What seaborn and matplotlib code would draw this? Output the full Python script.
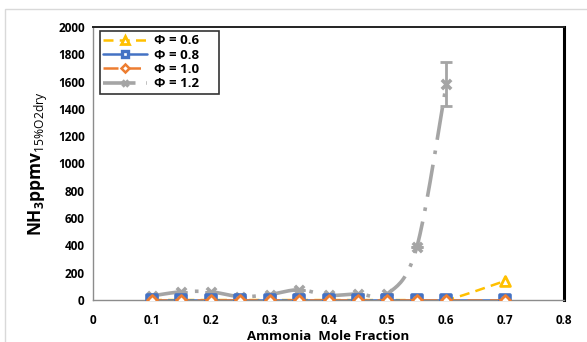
import numpy as np
import pandas as pd
import matplotlib
matplotlib.use("Agg")
import matplotlib.pyplot as plt
import seaborn as sns
from matplotlib.lines import Line2D
from matplotlib.patches import Rectangle

# ---- data ----
x_main = [0.1, 0.15, 0.2, 0.25, 0.3, 0.35, 0.4, 0.45, 0.5, 0.55, 0.6, 0.7]
phi06 = [0, 0, 0, 0, 0, 0, 0, 0, 0, 0, 0, 140]
phi08 = [0, 0, 0, 0, 0, 0, 0, 0, 0, 0, 0, 0]
phi10 = [0, 0, 0, 0, 0, 0, 0, 0, 0, 0, 0, 0]
x_12 = [0.1, 0.15, 0.2, 0.25, 0.3, 0.35, 0.4, 0.45, 0.5, 0.55, 0.6]
phi12 = [30, 60, 60, 25, 40, 75, 35, 45, 45, 388, 1580]
phi12_err = [0, 0, 0, 0, 0, 0, 0, 0, 0, 0, 160]
x_ticks = [0, 0.1, 0.2, 0.3, 0.4, 0.5, 0.6, 0.7, 0.8]
x_ticklabels = ["0", "0.1", "0.2", "0.3", "0.4", "0.5", "0.6", "0.7", "0.8"]
y_ticks = [0, 200, 400, 600, 800, 1000, 1200, 1400, 1600, 1800, 2000]
labels = ["Φ = 0.6", "Φ = 0.8", "Φ = 1.0", "Φ = 1.2"]

C_Y, C_B, C_O, C_G = "#FFC000", "#4472C4", "#ED7D31", "#A5A5A5"

sns.set_theme(style="white")
plt.rcParams["font.family"] = ["Open Sans", "DejaVu Sans"]
plt.rcParams["mathtext.fontset"] = "custom"
plt.rcParams["mathtext.rm"] = "Open Sans"
plt.rcParams["mathtext.bf"] = "Open Sans:bold"
plt.rcParams["text.color"] = "black"
plt.rcParams["xtick.color"] = "black"
plt.rcParams["ytick.color"] = "black"
plt.rcParams["axes.labelcolor"] = "black"


def smooth(xs, ys, n=20):
    """Catmull-Rom rendering of a smoothed line through the data points."""
    xs = np.asarray(xs, float); ys = np.asarray(ys, float)
    P = np.column_stack([xs, ys])
    P = np.vstack([P[0], P, P[-1]])
    out = []
    t = np.linspace(0, 1, n, endpoint=False)[:, None]
    for i in range(1, len(P) - 2):
        p0, p1, p2, p3 = P[i - 1], P[i], P[i + 1], P[i + 2]
        seg = 0.5 * ((2 * p1) + (-p0 + p2) * t + (2 * p0 - 5 * p1 + 4 * p2 - p3) * t ** 2
                     + (-p0 + 3 * p1 - 3 * p2 + p3) * t ** 3)
        out.append(seg)
    out.append(P[-2][None, :])
    out = np.vstack(out)
    return out[:, 0], out[:, 1]


fig = plt.figure(figsize=(5.87, 3.42), dpi=100)
ax = fig.add_axes([93 / 587, 1 - 300 / 342, (564 - 93) / 587, (300 - 27) / 342])

# Phi = 1.2 (grey, smoothed dash-dot)
sx, sy = smooth(x_12, phi12)
df_s = pd.DataFrame({"x": sx, "y": sy})
sns.lineplot(data=df_s, x="x", y="y", ax=ax, color=C_G, lw=2.6, sort=False, zorder=2)
ax.lines[-1].set_dashes([9, 3, 1, 3])
ax.errorbar(x_12, phi12, yerr=phi12_err, fmt="none", ecolor=C_G, elinewidth=2,
            capsize=4, capthick=2, zorder=2)
df12 = pd.DataFrame({"x": x_12, "y": phi12})
sns.scatterplot(data=df12, x="x", y="y", ax=ax, marker="x", s=45, color=C_G,
                linewidth=2.6, zorder=3)

# Phi = 0.6 (yellow, dashed, triangles)
df06 = pd.DataFrame({"x": x_main, "y": phi06})
sx, sy = smooth(x_main, phi06)
sns.lineplot(x=sx, y=sy, ax=ax, color=C_Y, lw=1.8, sort=False, zorder=4)
ax.lines[-1].set_dashes([4, 2.5])
sns.scatterplot(data=df06, x="x", y="y", ax=ax, marker="^", s=50, facecolor="white",
                edgecolor=C_Y, linewidth=2, zorder=4)

# Phi = 0.8 (blue, solid, squares)
df08 = pd.DataFrame({"x": x_main, "y": phi08})
sns.lineplot(data=df08, x="x", y="y", ax=ax, color=C_B, lw=1.8, zorder=5)
sns.scatterplot(data=df08, x="x", y="y", ax=ax, marker="s", s=60, facecolor="white",
                edgecolor=C_B, linewidth=2.6, zorder=5)

# Phi = 1.0 (orange, long dash, diamonds)
df10 = pd.DataFrame({"x": x_main, "y": phi10})
sns.lineplot(data=df10, x="x", y="y", ax=ax, color=C_O, lw=1.8, zorder=6)
ax.lines[-1].set_dashes([6, 3])
sns.scatterplot(data=df10, x="x", y="y", ax=ax, marker="D", s=26, facecolor="white",
                edgecolor=C_O, linewidth=2, zorder=6)

ax.set_xlim(0, 0.8)
ax.set_ylim(0, 2000)
ax.set_xticks(x_ticks)
ax.set_xticklabels(x_ticklabels)
ax.set_yticks(y_ticks)
ax.tick_params(axis="both", length=0, labelsize=8.5, pad=6)
for t in ax.get_xticklabels() + ax.get_yticklabels():
    t.set_fontweight("bold")
ax.tick_params(axis="x", pad=10)

ax.set_xlabel("Ammonia  Mole Fraction", fontsize=9.5, fontweight="bold", labelpad=2)
ax.set_ylabel(r"$\mathbf{NH}_{\mathbf{3}}\mathbf{ppmv}_{\mathrm{15\%O2dry}}$",
              fontsize=12.5, labelpad=6)

for side in ["left", "bottom"]:
    ax.spines[side].set_color("#8c8c8c")
    ax.spines[side].set_linewidth(1)
ax.spines["top"].set_color("#222222")
ax.spines["top"].set_linewidth(1.4)
ax.spines["right"].set_color("black")
ax.spines["right"].set_linewidth(2.2)

handles = [
    Line2D([], [], color=C_Y, lw=1.8, dashes=[4, 2.5], marker="^", ms=5.5, mfc="white", mec=C_Y, mew=2),
    Line2D([], [], color=C_B, lw=1.8, marker="s", ms=5, mfc="white", mec=C_B, mew=2.4),
    Line2D([], [], color=C_O, lw=1.8, dashes=[6, 3], marker="D", ms=4, mfc="white", mec=C_O, mew=1.8),
    Line2D([], [], color=C_G, lw=2.6, dashes=[9, 3, 1, 3], marker="x", ms=5, mec=C_G, mew=2.5),
]
leg = ax.legend(handles, labels, loc="upper left", bbox_to_anchor=(0.015, 0.985),
                frameon=True, fancybox=False, edgecolor="black", fontsize=9.5,
                handlelength=3.3, borderpad=0.25, labelspacing=0.1, handletextpad=0.5,
                borderaxespad=0)
leg.get_frame().set_linewidth(1.2)
for t in leg.get_texts():
    t.set_fontweight("bold")
    t.set_text(t.get_text() + "     ")

fig.patches.append(Rectangle((5 / 587, -0.01), 1.0, 1 - 9 / 342 + 0.01, transform=fig.transFigure,
                             fill=False, edgecolor="#d9d9d9", lw=1, zorder=0))

fig.savefig("out.png", dpi=100)
